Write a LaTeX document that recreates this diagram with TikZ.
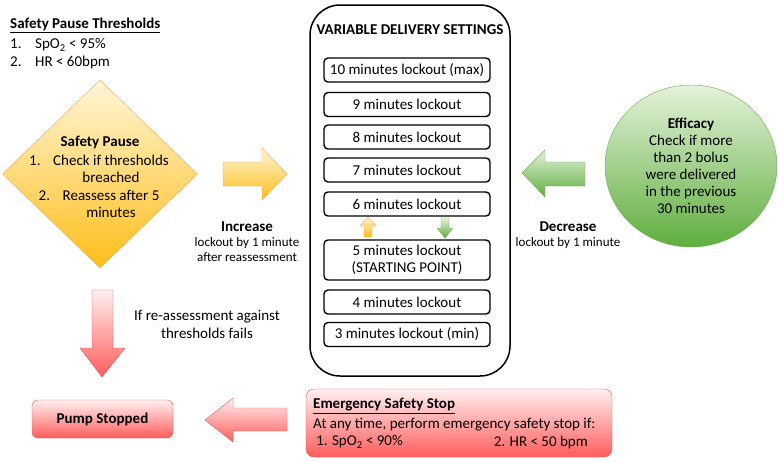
\documentclass[tikz,border=0pt]{standalone}
\usepackage{fontspec}
\setmainfont{Carlito}
\usepackage{tikz}
\usetikzlibrary{shapes.geometric,positioning}

\definecolor{OrangeLine}{HTML}{F4A25A}
\definecolor{OrangeFill}{HTML}{FFBE1A}
\definecolor{PaleYellow}{HTML}{FFF6D8}
\definecolor{GreenLine}{HTML}{6AB04C}
\definecolor{GreenFill}{HTML}{5FAE3E}
\definecolor{PaleGreen}{HTML}{E4F2DA}
\definecolor{RedLine}{HTML}{E0585A}
\definecolor{RedFill}{HTML}{FF5C5C}
\definecolor{PaleRed}{HTML}{FFF0F0}

\tikzset{
  txt/.style={font=\fontsize{15}{17}\selectfont, inner sep=0pt},
  small/.style={font=\fontsize{13}{15}\selectfont, inner sep=0pt, align=center},
  lockbox/.style={draw, line width=1.4pt, rounded corners=4pt, minimum width=166pt,
    minimum height=24pt, txt, align=center},
  orangeshade/.style={draw=OrangeLine, top color=PaleYellow, bottom color=OrangeFill},
  greenshade/.style={draw=GreenLine, top color=PaleGreen, bottom color=GreenFill},
  redshade/.style={draw=RedLine, top color=PaleRed, bottom color=RedFill},
}

\begin{document}
\begin{tikzpicture}[x=1pt,y=-1pt]
\useasboundingbox (0,0) rectangle (778,461);

% thresholds
\node[txt, anchor=west] (thr) at (10,25) {\textbf{\underline{Safety Pause Thresholds}}};
\node[txt, anchor=west] (thr1) at (10,45) {\makebox[25pt][l]{1.}SpO\textsubscript{2} < 95\%};
\node[txt, anchor=west] (thr2) at (10,62) {\makebox[25pt][l]{2.}HR < 60bpm};

% safety pause
\node[diamond, orangeshade, minimum width=195pt, minimum height=188pt, inner sep=0pt] (pause) at (100,174) {};
\node[txt] (pausettl) at (100,142) {\textbf{Safety Pause}};
\node[txt] (pause1) at (99,160) {\makebox[24pt][l]{1.}Check if thresholds};
\node[txt] (pause1b) at (111,177) {breached};
\node[txt] (pause2) at (99,195) {\makebox[24pt][l]{2.}Reassess after 5};
\node[txt] (pause2b) at (111,212) {minutes};

% increase
\draw[orangeshade] (223,162) -- (262,162) -- (262,148) -- (287,174) -- (262,200) -- (262,186) -- (223,186) -- cycle;
\node[txt] (inc) at (247,227) {\textbf{Increase}};
\node[small] (inctxt) at (247,250) {lockout by 1 minute\\after reassessment};

% variable delivery settings
\node[draw, line width=1.5pt, rounded corners=30pt, minimum width=200pt, minimum height=371pt] (settings) at (410,190.5) {};
\node[txt] (settingsttl) at (410,30) {\textbf{VARIABLE DELIVERY SETTINGS}};
\foreach \n/\y/\t in {10/70/10 minutes lockout (max), 9/104.5/9 minutes lockout,
  8/137/8 minutes lockout, 7/170/7 minutes lockout, 6/204/6 minutes lockout,
  4/302/4 minutes lockout, 3/334.5/3 minutes lockout (min)}
  {\node[lockbox] (m\n) at (407,\y) {\t};}
\node[lockbox, minimum height=40pt] (m5) at (407,260) {5 minutes lockout\\(STARTING POINT)};

% small arrows between 6 and 5
\draw[orangeshade] (364,237) -- (372,237) -- (372,226) -- (376,226) -- (368,217) -- (360,226) -- (364,226) -- cycle;
\draw[greenshade] (441,218) -- (449,218) -- (449,228) -- (453,228) -- (445,238) -- (437,228) -- (441,228) -- cycle;

% decrease
\draw[greenshade] (585,162) -- (545,162) -- (545,150) -- (522,173) -- (545,197) -- (545,186) -- (585,186) -- cycle;
\node[txt] (dec) at (568,227) {\textbf{Decrease}};
\node[small] (dectxt) at (568,243) {lockout by 1 minute};

% efficacy
\node[ellipse, greenshade, minimum width=172pt, minimum height=162pt, inner sep=0pt,
  txt, align=center] (efficacy) at (691,166)
  {\textbf{Efficacy}\\Check if more\\than 2 bolus\\were delivered\\in the previous\\30 minutes};

% pump stopped
\draw[redshade] (92,290) -- (113,290) -- (113,348) -- (125,348) -- (102,377) -- (80,348) -- (92,348) -- cycle;
\node[txt, align=center, font=\fontsize{15}{18}\selectfont] (fails) at (207,324) {If re-assessment against\\thresholds fails};
\node[redshade, rounded corners=6pt, minimum width=141pt, minimum height=38pt, txt] (pump) at (102.5,419) {\textbf{Pump Stopped}};
\draw[redshade] (287,408) -- (233,408) -- (233,398) -- (205,420) -- (233,442) -- (233,431) -- (287,431) -- cycle;

% emergency stop
\node[redshade, rounded corners=8pt, minimum width=306pt, minimum height=68pt] (emergency) at (459,423) {};
\node[txt, anchor=west] (emttl) at (313,406) {\textbf{\underline{Emergency Safety Stop}}};
\node[txt, anchor=west] (emtxt) at (313,424.5) {At any time, perform emergency safety stop if:};
\node[txt, anchor=west] (em1) at (316,442) {1. SpO\textsubscript{2} < 90\%};
\node[txt, anchor=east] (em2) at (588,442) {2. HR < 50 bpm};
\end{tikzpicture}
\end{document}
